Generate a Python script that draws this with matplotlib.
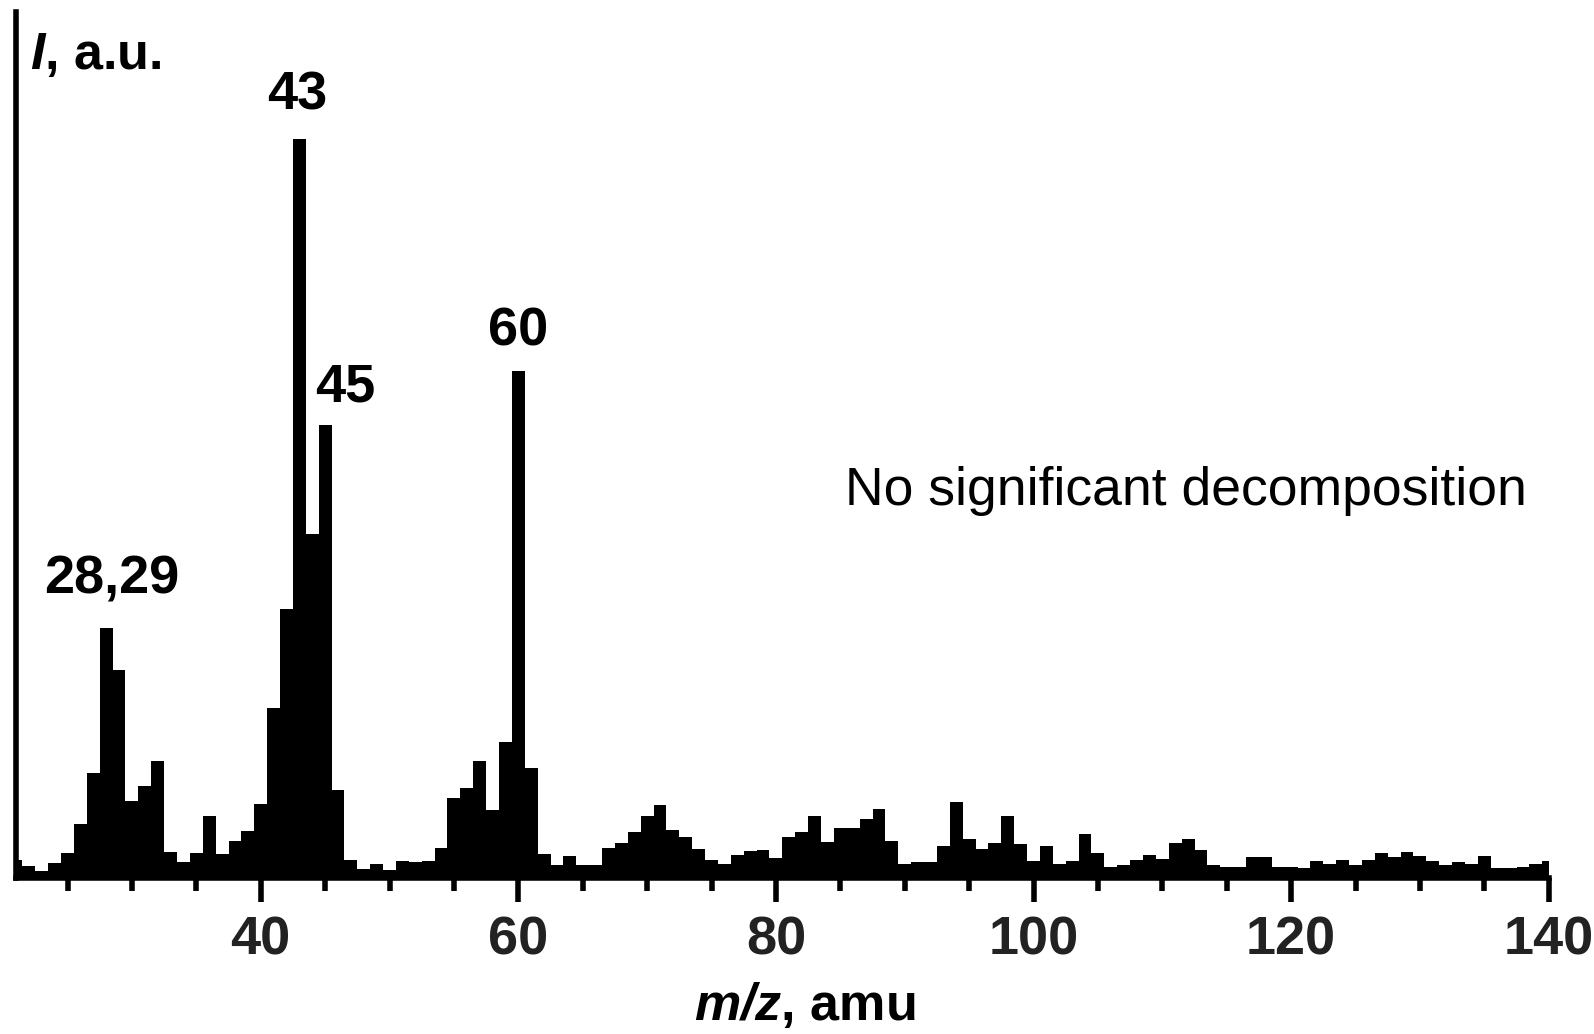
import numpy as np
import matplotlib
matplotlib.use("Agg")
import matplotlib.pyplot as plt

# Mass spectrum: ion intensity (a.u.) for each integer m/z
mz = list(range(21, 141))
intensity = [
    18, 12.3, 7.3, 15.3, 25.3, 53.7, 105.3, 249.7, 208, 77.3,          # 21-30
    92.3, 117, 26.3, 15.7, 24.7, 62.3, 23.7, 37, 47.3, 74,             # 31-40
    170, 269, 739, 344, 452.5, 88.5, 18, 9.5, 13.6, 8.5,               # 41-50
    17, 16, 17, 30, 80, 90, 117, 68, 136.5, 506.6,                     # 51-60
    110.5, 24.5, 13.5, 22, 13, 13, 29.7, 35.3, 46, 62.3,               # 61-70
    73, 48, 41.5, 28.7, 18, 13.7, 23.5, 27, 28, 20.3,                  # 71-80
    40.7, 46.3, 62.3, 35.7, 49.7, 49.7, 59, 68.7, 37, 13.7,            # 81-90
    15.7, 15.7, 32, 76.3, 38.7, 28.7, 35.3, 62, 34, 17,                # 91-100
    32, 14, 17, 43.7, 24.7, 11.3, 12.7, 18, 23.5, 19,                  # 101-110
    35.3, 39.3, 27.7, 13, 11.3, 11.3, 21.3, 21.3, 11.3, 11.3,          # 111-120
    10.3, 17, 13.7, 18, 12.7, 18, 24.7, 20.7, 25.7, 22,                # 121-130
    17, 12.7, 15.7, 13.7, 22, 9.7, 9.7, 11.3, 13.7, 17,                # 131-140
]

# Peak annotations: (text, m/z of the annotated peak, horizontal position)
peak_labels = ["28,29", "43", "45", "60"]
peak_mz = [28, 43, 45, 60]
peak_text_x = [28.45, 42.8, 46.6, 60.0]

major_ticks = [40, 60, 80, 100, 120, 140]
minor_ticks = [25, 30, 35, 45, 50, 55, 65, 70, 75, 85, 90, 95,
               105, 110, 115, 125, 130, 135]

plt.rcParams["font.family"] = ["Liberation Sans", "DejaVu Sans"]
plt.rcParams["mathtext.fontset"] = "custom"
plt.rcParams["mathtext.rm"] = "Liberation Sans:bold"
plt.rcParams["mathtext.bf"] = "Liberation Sans:bold"
plt.rcParams["mathtext.it"] = "Liberation Sans:italic:bold"
plt.rcParams["mathtext.bfit"] = "Liberation Sans:italic:bold"

W, H = 1594, 1034
fig = plt.figure(figsize=(W / 100, H / 100), dpi=100)
ax = fig.add_axes([16 / W, 156 / H, 1532.7 / W, 866 / H])

mz_arr = np.asarray(mz, dtype=float)
edges = np.append(mz_arr - 0.5, mz_arr[-1] + 0.5)
ax.stairs(intensity, edges, fill=True, color="black", linewidth=0)

ax.set_xlim(21, 140)
ax.set_ylim(0, 866)

for side in ("top", "right"):
    ax.spines[side].set_visible(False)
for side in ("left", "bottom"):
    ax.spines[side].set_linewidth(4)
    ax.spines[side].set_color("black")
ax.spines["bottom"].set_capstyle("projecting")

ax.set_yticks([])
ax.set_xticks(major_ticks)
ax.set_xticks(minor_ticks, minor=True)
ax.set_xticklabels([str(t) for t in major_ticks])
ax.tick_params(axis="x", which="major", direction="out", length=17, width=4,
               pad=10, labelsize=39, labelcolor="#222222", color="black")
ax.tick_params(axis="x", which="minor", direction="out", length=9.5, width=4,
               color="black")
for lbl in ax.get_xticklabels():
    lbl.set_fontweight("bold")

# peak labels
gaps = {"28,29": 35, "43": 29, "45": 24, "60": 26}
for txt, m, tx in zip(peak_labels, peak_mz, peak_text_x):
    h = intensity[mz.index(m)]
    ax.text(tx, h + gaps[txt], txt, ha="center", va="baseline",
            fontsize=39, fontweight="bold", color="black")

ax.text(111.8, 373, "No significant decomposition", ha="center",
        va="baseline", fontsize=38.5, color="black")

ax.text(22.1, 809, r"$\mathbfit{I}$, a.u.", ha="left", va="baseline",
        fontsize=37.5, fontweight="bold", color="black")

fig.text(805 / W, (H - 1020) / H, r"$\mathbfit{m/z}$, amu", ha="center",
         va="baseline", fontsize=37.5, fontweight="bold", color="black")

fig.savefig("out.png", dpi=100, facecolor="white")
